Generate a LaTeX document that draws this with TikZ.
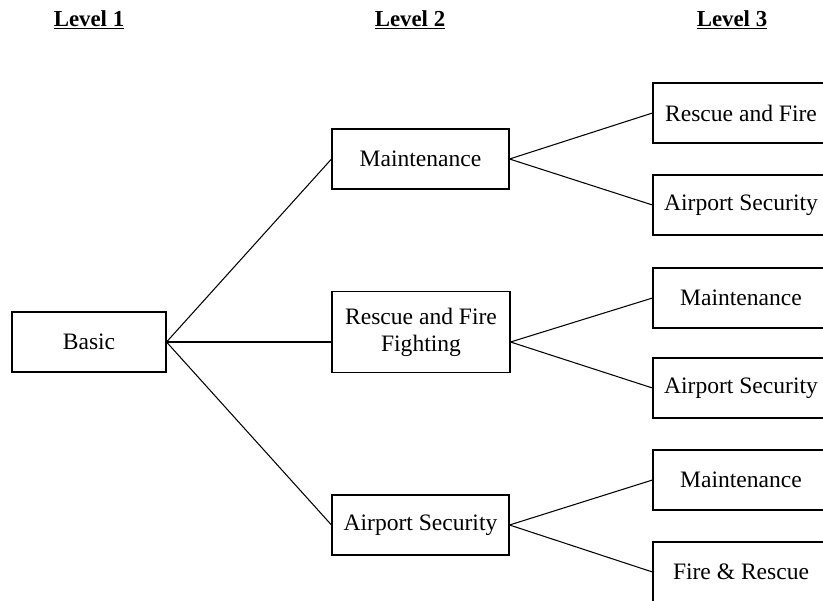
\documentclass[tikz,border=0pt]{standalone}
\usepackage{fontspec}
\setmainfont{Liberation Serif}
\usetikzlibrary{positioning}

\begin{document}
\begin{tikzpicture}[
      mybox/.style={
         rectangle,
         draw=black,
         line width=0.6pt,
         align=center,
         inner sep=0pt,
         minimum height=1.2cm,
         font=\fontsize{13.4}{15.5}\selectfont},
      mylevel/.style={font=\fontsize{13}{15}\selectfont\bfseries},
      myline/.style={line width=0.6pt}
      ]
      \useasboundingbox (0,0) rectangle (16.46,12);

      % headings
      \node[mylevel] at (1.78, 11.60) (lvlone) {\underline{Level 1}};
      \node[mylevel] at (8.20, 11.60) (lvltwo) {\underline{Level 2}};
      \node[mylevel] at (14.64, 11.60) (lvlthree) {\underline{Level 3}};

      % level 1 and 2
      \node[mybox, minimum width=3.08cm] at (1.78, 5.16) (basic) {Basic};
      \node[mybox, minimum width=3.54cm] at (8.41, 8.82) (maint) {Maintenance};
      \node[mybox, minimum width=3.56cm, minimum height=1.62cm] at (8.42, 5.36) (rff) {Rescue and Fire\\Fighting};
      \node[mybox, minimum width=3.54cm] at (8.41, 1.50) (asec) {Airport Security};
      \coordinate (rffin) at (basic.east -| rff.west);
      \coordinate (rffout) at (basic.east -| rff.east);

      % level 3
      \node[mybox, minimum width=3.52cm] at (14.82, 9.74) (rfthree) {Rescue and Fire};
      \node[mybox, minimum width=3.52cm] at (14.82, 7.90) (asthreea) {Airport Security};
      \node[mybox, minimum width=3.52cm] at (14.82, 6.04) (mtthreeb) {Maintenance};
      \node[mybox, minimum width=3.52cm] at (14.82, 4.24) (asthreeb) {Airport Security};
      \node[mybox, minimum width=3.52cm] at (14.82, 2.40) (mtthreec) {Maintenance};
      \node[mybox, minimum width=3.52cm] at (14.82, 0.56) (frthreec) {Fire \& Rescue};

    \foreach \i/\j in {% start/end
      basic.east/maint.west,
      basic.east/rffin,
      basic.east/asec.west,
      maint.east/rfthree.west,
      maint.east/asthreea.west,
      rffout/mtthreeb.west,
      rffout/asthreeb.west,
      asec.east/mtthreec.west,
      asec.east/frthreec.west%
      }
       \draw [myline] (\i) -- (\j);

    \end{tikzpicture}
\end{document}
